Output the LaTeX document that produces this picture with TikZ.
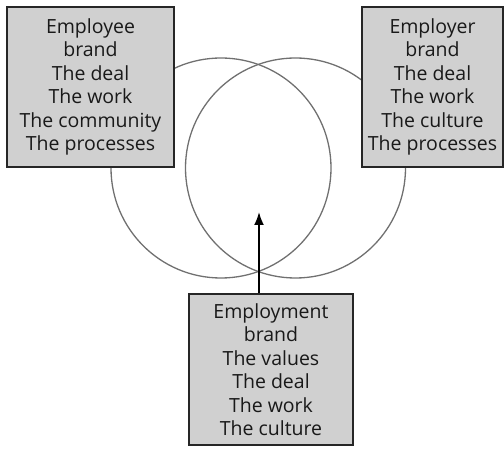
\documentclass[tikz,border=0pt]{standalone}
\usepackage{fontspec}
\setmainfont{Open Sans}
\usetikzlibrary{arrows.meta}
\definecolor{boxfill}{HTML}{D0D0D0}
\definecolor{circ}{HTML}{707070}
\tikzset{
  brandbox/.style={draw=black!85, line width=1.1pt, fill=boxfill, align=center, inner sep=0pt,
    font=\fontsize{19.5}{23.5}\selectfont, text=black!90},
  ring/.style={draw=circ, line width=1.3pt},
  pointer/.style={draw=black, line width=1.8pt, -{Latex[length=13pt,width=10pt]}}
}
\begin{document}
\begin{tikzpicture}[x=1pt,y=-1pt]
\useasboundingbox (0,0) rectangle (504,454);
\draw[ring] (221,168) circle[radius=110];
\draw[ring] (295.5,168) circle[radius=110];
\node[brandbox, minimum width=167pt, minimum height=160pt] (ee) at (90.5,87) {Employee\\brand\\The deal\\The work\\The community\\The processes};
\node[brandbox, minimum width=141pt, minimum height=160pt] (er) at (432.5,87) {Employer\\brand\\The deal\\The work\\The culture\\The processes};
\node[brandbox, minimum width=164pt, minimum height=151pt] (em) at (271,369.5) {Employment\\brand\\The values\\The deal\\The work\\The culture};
\coordinate (tip) at (259,212);
\draw[pointer] (em.north -| tip) -- (tip);
\end{tikzpicture}
\end{document}
